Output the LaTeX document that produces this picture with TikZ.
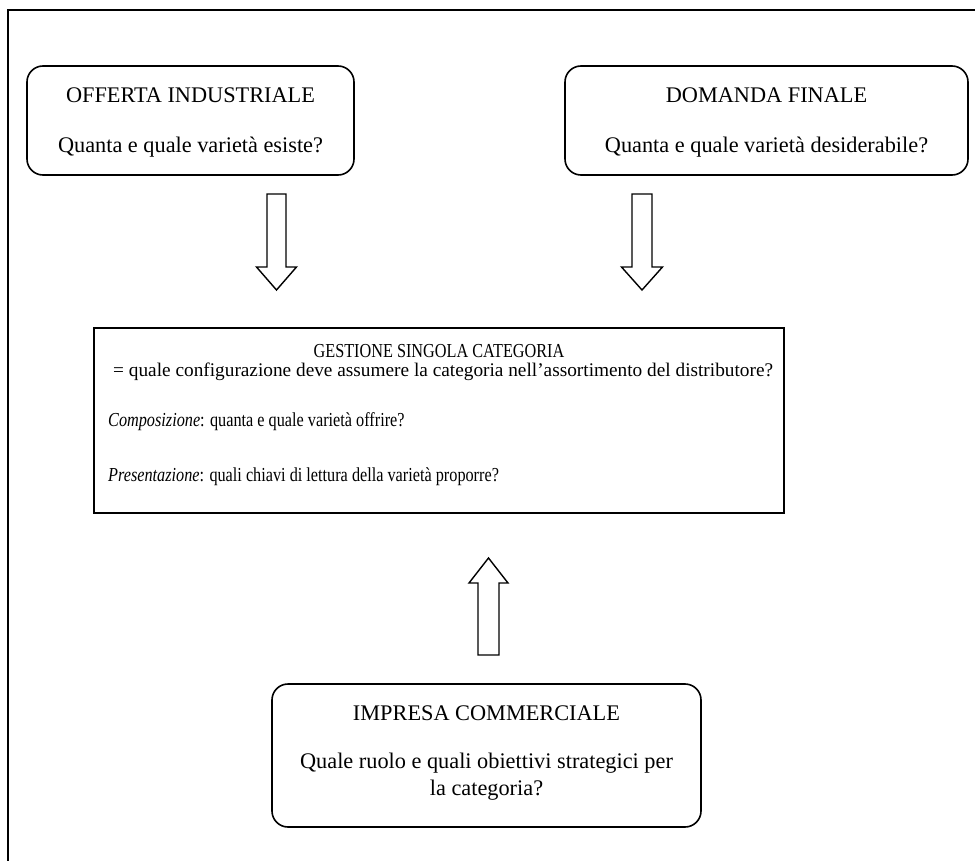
\documentclass[tikz,border=0pt]{standalone}
\usepackage{fontspec}
\setmainfont{Liberation Serif}
\newfontfamily\condserif[FakeStretch=0.82]{Liberation Serif}
\begin{document}
\begin{tikzpicture}[x=1pt,y=-1pt,
  frameline/.style={line width=2pt},
  rbox/.style={draw, line width=1.6pt, rounded corners=16pt, inner sep=0pt},
  sbox/.style={draw, line width=1.6pt, inner sep=0pt},
  bigtxt/.style={inner sep=0pt, font=\fontsize{22.3}{26.8}\selectfont},
  midtxt/.style={inner sep=0pt, font=\condserif\fontsize{19.8}{23}\selectfont},
  widetxt/.style={inner sep=0pt, font=\fontsize{19.3}{22}\selectfont},
  hollowarrow/.style={draw, line width=1.4pt, line join=miter}]
\useasboundingbox (0,0) rectangle (975,861);
% outer frame (only top and left edges visible)
\draw[frameline] (8,861) -- (8,10) -- (975,10);

% boxes
\node[rbox, minimum width=327pt, minimum height=109pt] (offerta) at (190.5,120.5) {};
\node[rbox, minimum width=403pt, minimum height=109pt] (domanda) at (766.5,120.5) {};
\node[sbox, minimum width=690pt, minimum height=185pt] (gestione) at (439,420.5) {};
\node[rbox, minimum width=429pt, minimum height=143pt] (impresa) at (486.5,755.5) {};

% texts
\node[bigtxt] (offT) at (190.5,95) {OFFERTA INDUSTRIALE};
\node[bigtxt] (offQ) at (190.5,147) {Quanta e quale varietà esiste?};
\node[bigtxt] (domT) at (766.5,95) {DOMANDA FINALE};
\node[bigtxt] (domQ) at (766.5,147) {Quanta e quale varietà desiderabile?};

\node[midtxt] (gesT) at (439,351) {GESTIONE SINGOLA CATEGORIA};
\node[widetxt, anchor=west] (gesQ) at (113,372) {= quale configurazione deve assumere la categoria nell’assortimento del distributore?};
\node[midtxt, anchor=west] (gesC) at (108,422) {\textit{Composizione}: quanta e quale varietà offrire?};
\node[midtxt, anchor=west] (gesP) at (108,477) {\textit{Presentazione}: quali chiavi di lettura della varietà proporre?};

\node[bigtxt] (impT) at (486.5,713) {IMPRESA COMMERCIALE};
\node[bigtxt, align=center] (impQ) at (486.5,777) {Quale ruolo e quali obiettivi strategici per\\la categoria?};

% hollow block arrows
\coordinate (a1) at (276.5,194);
\coordinate (a2) at (642,194);
\coordinate (a3) at (488.5,655);
\draw[hollowarrow] (a1) ++(-9.5,0) -- ++(0,73) -- ++(-10.5,0) -- ++(20,23) -- ++(20,-23) -- ++(-10.5,0) -- ++(0,-73) -- cycle;
\draw[hollowarrow] (a2) ++(-10,0) -- ++(0,73) -- ++(-10.5,0) -- ++(20.5,23) -- ++(20.5,-23) -- ++(-10.5,0) -- ++(0,-73) -- cycle;
\draw[hollowarrow] (a3) ++(-10.5,0) -- ++(0,-72) -- ++(-9,0) -- ++(19.5,-25) -- ++(19.5,25) -- ++(-9,0) -- ++(0,72) -- cycle;
\end{tikzpicture}
\end{document}
